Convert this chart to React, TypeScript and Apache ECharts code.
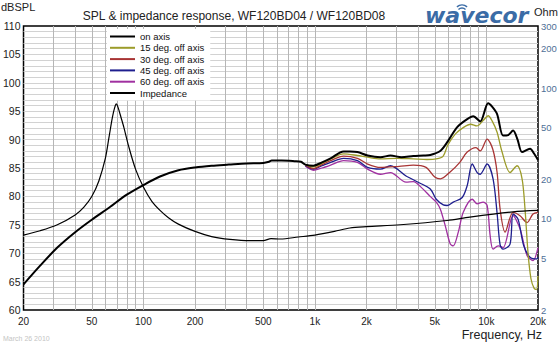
import React, { useEffect, useRef } from "react";
import * as echarts from "echarts";

// ---------- data ----------
const xLabelHz = [20, 50, 100, 200, 500, 1000, 2000, 5000, 10000, 20000];
const xGridHz = [
  30, 40, 50, 60, 70, 80, 90, 100, 200, 300, 400, 500, 600, 700, 800, 900, 1000,
  2000, 3000, 4000, 5000, 6000, 7000, 8000, 9000, 10000,
];
const ohmLabels = [2, 5, 10, 20, 50, 100, 200, 300];

const onAxisHz = [20, 25, 31.5, 40, 50, 63, 80, 100, 125, 160, 200, 250, 315, 400, 500, 540, 560, 640, 760, 830, 880, 980, 1100, 1235, 1470, 1600, 1770, 2030, 2410, 2760, 3200, 3750, 4300, 4710, 5380, 5900, 6760, 7730, 8380, 9200, 10240, 10800, 11550, 12520, 13400, 14310, 15200, 16150, 17970, 19000, 20000];
const onAxisDb = [64.5, 67.8, 71.0, 73.7, 75.9, 78.0, 80.3, 82.0, 83.5, 84.6, 85.1, 85.4, 85.6, 85.8, 85.9, 86.1, 86.3, 86.3, 86.2, 86.1, 85.6, 85.4, 86.0, 86.7, 87.9, 87.9, 87.8, 87.2, 86.9, 87.2, 86.9, 87.1, 87.2, 87.3, 88.0, 89.5, 92.2, 93.6, 94.1, 93.2, 96.4, 95.8, 94.5, 90.7, 90.8, 91.6, 90.0, 87.8, 88.4, 87.5, 86.4];

const deg15Hz = [880, 980, 1100, 1235, 1470, 1770, 2030, 2410, 3000, 3750, 4500, 5100, 5600, 5950, 6600, 7400, 8100, 8800, 9600, 10240, 10800, 11550, 12300, 13740, 15100, 16150, 16800, 17500, 18200, 19000, 19600, 20000];
const deg15Db = [85.6, 85.2, 85.8, 86.6, 87.5, 87.2, 86.9, 86.6, 86.7, 86.6, 86.5, 86.6, 87.1, 89.0, 91.0, 92.2, 92.7, 92.4, 93.4, 94.2, 93.3, 91.3, 88.0, 84.2, 85.4, 83.1, 77.8, 70.0, 65.5, 63.8, 63.6, 66.0];

const deg30Hz = [880, 980, 1100, 1235, 1470, 1770, 2030, 2410, 3100, 3750, 4450, 5000, 5400, 6100, 7000, 7730, 8700, 9200, 10100, 10900, 11550, 12020, 12860, 14310, 15710, 17260, 18700, 20000];
const deg30Db = [85.5, 84.9, 85.6, 86.3, 87.1, 86.7, 85.7, 85.1, 85.3, 85.5, 85.1, 83.4, 83.1, 84.2, 86.0, 87.8, 88.6, 88.0, 90.1, 88.3, 84.2, 77.8, 73.7, 77.2, 76.6, 75.4, 76.9, 77.2];

const deg45Hz = [880, 980, 1100, 1235, 1470, 1770, 2030, 2410, 2760, 3400, 4000, 4710, 5100, 5610, 5900, 6410, 7230, 7730, 8270, 8840, 9200, 10100, 10940, 11550, 12020, 12520, 13740, 14310, 15300, 16520, 17970, 19740, 20000];
const deg45Db = [85.4, 84.8, 85.4, 86.0, 86.7, 86.3, 85.1, 84.8, 85.4, 83.6, 82.5, 81.3, 79.5, 78.5, 78.4, 79.0, 79.8, 81.9, 85.7, 84.2, 83.9, 85.7, 83.1, 77.0, 71.5, 70.7, 71.6, 76.9, 76.0, 71.3, 69.3, 69.0, 69.3];

const deg60Hz = [880, 980, 1100, 1235, 1470, 1770, 2030, 2410, 2760, 3400, 3750, 4200, 4700, 5100, 5385, 5760, 6160, 6410, 6860, 7330, 8270, 8840, 9570, 10100, 10520, 10940, 11720, 12520, 14310, 15710, 17260, 18700, 20000];
const deg60Db = [85.3, 84.6, 85.0, 85.5, 86.3, 86.0, 84.8, 83.9, 84.2, 82.5, 82.6, 81.5, 80.0, 79.0, 77.8, 74.8, 71.6, 71.3, 73.7, 77.2, 79.5, 78.7, 79.0, 78.4, 73.1, 70.7, 71.3, 71.0, 76.6, 74.3, 69.6, 68.7, 71.0];

const impHz = [20, 25, 31.5, 40, 45, 50, 55, 60, 63, 66, 68, 69.5, 71, 74, 77, 82, 90, 100, 112, 125, 140, 160, 200, 250, 320, 420, 500, 555, 630, 800, 1000, 1300, 1600, 2000, 3150, 5900, 8000, 14300, 20000];
const impOhm = [7.5, 8.1, 9.0, 10.7, 12.3, 14.8, 19.5, 29, 42, 60, 71, 76, 72, 60, 50, 36, 24, 17.5, 13.6, 11.6, 10.2, 9.1, 8.0, 7.3, 6.95, 6.8, 6.8, 7.05, 7.0, 7.25, 7.5, 8.0, 8.5, 8.7, 9.0, 9.7, 10.3, 11.3, 11.6];

const names = ["on axis", "15 deg. off axis", "30 deg. off axis", "45 deg. off axis", "60 deg. off axis", "Impedance"];
const colors = ["#000000", "#9c9c2a", "#a83434", "#1e1e8e", "#a030a0", "#000000"];

const lg = Math.log10;
const pairs = (hz: number[], v: number[], logY = false) =>
  hz.map((h, i) => [lg(h), logY ? lg(v[i]) : v[i]]);

const FONT = "Liberation Sans, Arial, sans-serif";

export default function App() {
  const ref = useRef<HTMLDivElement>(null);
  useEffect(() => {
    const chart = echarts.init(ref.current!, null, { renderer: "svg" });
    const mk = (idx: number, hz: number[], v: number[], width: number, yAxisIndex = 0, logY = false) => ({
      name: names[idx],
      type: "line",
      yAxisIndex,
      data: pairs(hz, v, logY),
      showSymbol: false,
      symbol: "none",
      smooth: 0.3,
      lineStyle: { color: colors[idx], width },
      itemStyle: { color: colors[idx] },
      z: 3,
    });
    chart.setOption({
      animation: false,
      textStyle: { fontFamily: FONT },
      title: {
        text: "SPL & impedance response, WF120BD04 / WF120BD08",
        left: 229,
        textAlign: "center",
        top: 5,
        textStyle: { fontSize: 12, fontWeight: "normal", color: "#222", fontFamily: FONT },
      },
      grid: { left: 22, right: 22, top: 26, height: 284, show: true, borderColor: "#000", borderWidth: 1.5, backgroundColor: "transparent" },
      legend: {
        data: names,
        orient: "vertical",
        left: 107,
        top: 29,
        icon: "rect",
        itemWidth: 25,
        itemHeight: 2,
        itemGap: 0.3,
        padding: [2, 6, 2, 3],
        backgroundColor: "#ffffff",
        textStyle: { fontSize: 9.5, color: "#111", lineHeight: 11, fontFamily: FONT },
        selectedMode: false,
      },
      xAxis: {
        type: "value",
        min: lg(20),
        max: lg(20000),
        axisLine: { show: false },
        axisTick: { show: false, customValues: xGridHz.map(lg) },
        splitLine: { show: true, lineStyle: { color: "#b6b6b6", width: 1 } },
        axisLabel: {
          customValues: xLabelHz.map(lg),
          margin: 6,
          fontSize: 10,
          color: "#222",
          formatter: (v: number) => {
            const f = Math.round(Math.pow(10, v));
            return f >= 1000 ? f / 1000 + "k" : String(f);
          },
        },
      },
      yAxis: [
        {
          type: "value",
          min: 60,
          max: 110,
          interval: 5,
          axisLine: { show: false },
          axisTick: { show: false },
          axisLabel: { fontSize: 10.5, color: "#222", margin: 3 },
          splitLine: { show: true, showMinLine: false, showMaxLine: false, lineStyle: { color: "#d2d2d2", width: 1 } },
          minorTick: { show: false, splitNumber: 5 },
          minorSplitLine: { show: true, lineStyle: { color: "#d2d2d2", width: 1 } },
        },
        {
          type: "value",
          position: "right",
          min: lg(2),
          max: lg(300),
          axisLine: { show: false },
          axisTick: { show: false },
          splitLine: { show: false },
          axisLabel: {
            customValues: ohmLabels.map(lg),
            fontSize: 9.5,
            color: "#4f6f96",
            margin: 3,
            formatter: (v: number) => String(Math.round(Math.pow(10, v))),
          },
        },
      ],
      graphic: [
        { type: "text", left: 1, top: 1, style: { text: "dBSPL", fontSize: 11, fill: "#222", fontFamily: FONT } },
        { type: "text", x: 534, y: 6, style: { text: "Ohm", fontSize: 11, fill: "#222", fontFamily: FONT, textAlign: "left", textVerticalAlign: "top" } },
        { type: "text", right: 18, top: 328, style: { text: "Frequency, Hz", fontSize: 12.5, fill: "#222", fontFamily: FONT } },
        { type: "text", left: 3, top: 335, style: { text: "March 26 2010", fontSize: 7, fill: "#c4c4c4", fontFamily: FONT } },
        {
          type: "text",
          left: 425,
          top: 4,
          style: { text: "wavecor", fontSize: 22, fontStyle: "italic", fontWeight: "bold", fill: "#3b6ca6", fontFamily: "DejaVu Sans, sans-serif" },
        },
        { type: "arc", shape: { cx: 462, cy: 13, r: 5, startAngle: -Math.PI * 0.75, endAngle: -Math.PI * 0.25 }, style: { stroke: "#3b6ca6", lineWidth: 1.4, fill: "none" } },
        { type: "arc", shape: { cx: 462, cy: 13, r: 8, startAngle: -Math.PI * 0.72, endAngle: -Math.PI * 0.28 }, style: { stroke: "#3b6ca6", lineWidth: 1.4, fill: "none" } },
      ],
      series: [
        mk(4, deg60Hz, deg60Db, 1.3),
        mk(3, deg45Hz, deg45Db, 1.3),
        mk(2, deg30Hz, deg30Db, 1.3),
        mk(1, deg15Hz, deg15Db, 1.3),
        mk(5, impHz, impOhm, 1.2, 1, true),
        mk(0, onAxisHz, onAxisDb, 2),
      ],
    });
    return () => chart.dispose();
  }, []);
  return <div ref={ref} style={{ position: "absolute", left: 0, top: 0, width: 560, height: 345 }} />;
}
